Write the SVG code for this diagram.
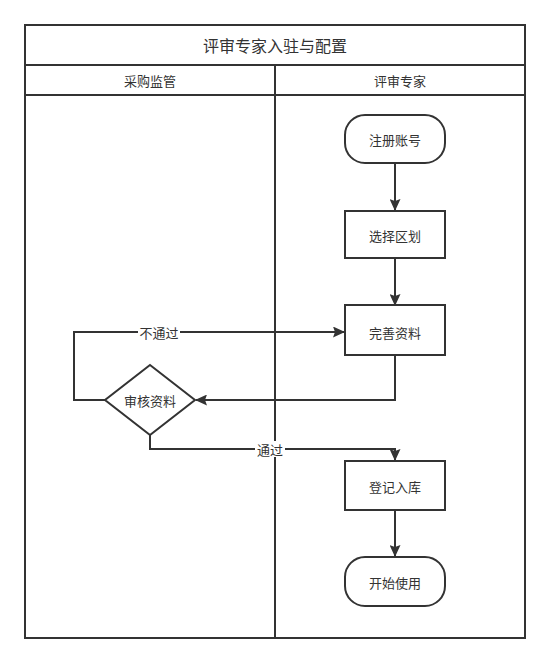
<svg xmlns="http://www.w3.org/2000/svg" width="550" height="664" viewBox="0 0 550 664">
<defs>
<marker id="ah" markerWidth="12" markerHeight="11" refX="11" refY="5.5" orient="auto" markerUnits="userSpaceOnUse">
<path d="M0,0 L12,5.5 L0,11 L2,5.5 Z" fill="#333"/>
</marker>
<style>
.frame{fill:none;stroke:#333;stroke-width:2}
.node{fill:#fff;stroke:#333;stroke-width:2}
.edge{fill:none;stroke:#333;stroke-width:2}
text{font-family:"Noto Sans CJK SC","Liberation Sans",sans-serif;fill:#333;text-anchor:middle;dominant-baseline:central}
.t{font-size:16px}
.h{font-size:13px}
.n{font-size:13px}
.lbl{font-size:13px}
</style>
</defs>
<rect width="550" height="664" fill="#fff"/>
<g id="pool">
<rect class="frame" x="25" y="25" width="500" height="613"/>
<line class="frame" x1="25" y1="65" x2="525" y2="65"/>
<line class="frame" x1="25" y1="95" x2="525" y2="95"/>
<line class="frame" x1="275" y1="65" x2="275" y2="638"/>
<text class="t" x="275" y="45">评审专家入驻与配置</text>
<text class="h" x="150" y="80">采购监管</text>
<text class="h" x="400" y="80">评审专家</text>
</g>
<g id="connectors">
<path class="edge" d="M395,163 L395,210" marker-end="url(#ah)"/>
<path class="edge" d="M395,258 L395,305" marker-end="url(#ah)"/>
<path class="edge" d="M395,355 L395,400 L196,400" marker-end="url(#ah)"/>
<path class="edge" d="M105,400 L74,400 L74,332 L344,332" marker-end="url(#ah)"/>
<path class="edge" d="M150,435 L150,449 L395,449 L395,460" marker-end="url(#ah)"/>
<path class="edge" d="M395,510 L395,556" marker-end="url(#ah)"/>
<rect x="138" y="324" width="42" height="16" fill="#fff"/>
<text class="lbl" x="159" y="332">不通过</text>
<rect x="255" y="441" width="30" height="16" fill="#fff"/>
<text class="lbl" x="270" y="449">通过</text>
</g>
<g id="n1">
<rect class="node" x="345" y="115" width="100" height="48" rx="20" ry="20"/>
<text class="n" x="395" y="139">注册账号</text>
</g>
<g id="n2">
<rect class="node" x="345" y="211" width="100" height="47"/>
<text class="n" x="395" y="235">选择区划</text>
</g>
<g id="n3">
<rect class="node" x="345" y="305" width="100" height="50"/>
<text class="n" x="395" y="332">完善资料</text>
</g>
<g id="n4">
<path class="node" d="M150,365 L195,400 L150,435 L105,400 Z"/>
<text class="n" x="150" y="400">审核资料</text>
</g>
<g id="n5">
<rect class="node" x="345" y="461" width="100" height="49"/>
<text class="n" x="395" y="486">登记入库</text>
</g>
<g id="n6">
<rect class="node" x="345" y="557" width="100" height="49" rx="20" ry="20"/>
<text class="n" x="395" y="582">开始使用</text>
</g>
</svg>
